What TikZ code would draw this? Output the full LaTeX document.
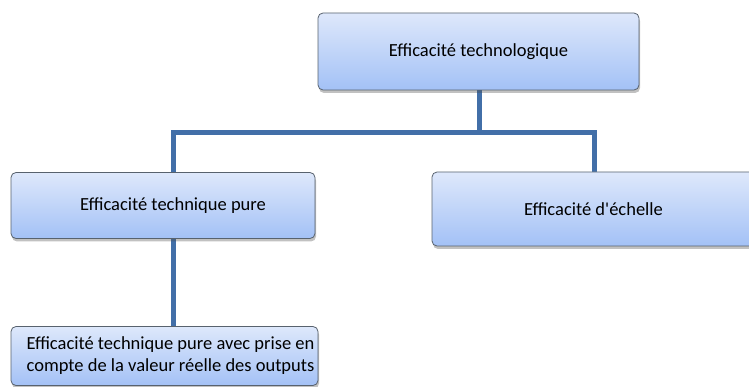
\documentclass[tikz,border=0pt]{standalone}
\usepackage{fontspec}
\setmainfont{Carlito}
\usetikzlibrary{shadows}
\definecolor{boxtop}{RGB}{222,232,251}
\definecolor{boxbot}{RGB}{163,193,246}
\definecolor{boxedge}{RGB}{88,98,110}
\definecolor{conncol}{RGB}{66,111,168}
\tikzset{
  boxnode/.style={draw=boxedge, line width=0.8pt, rounded corners=5pt,
    top color=boxtop, bottom color=boxbot, inner sep=0pt, align=center,
    font=\fontsize{18.5}{22}\selectfont,
    drop shadow={shadow xshift=1pt, shadow yshift=-3pt, opacity=0.35, fill=black!70}},
  conn/.style={draw=conncol, line width=5pt}
}
\begin{document}
\begin{tikzpicture}[x=1pt,y=-1pt]
\useasboundingbox (0,0) rectangle (749,387);
\coordinate (jl) at (173.5,133);
\coordinate (jr) at (594,133);
\coordinate (jm) at (479,133);
\draw[conn] (479,90) -- (jm);
\draw[conn] (173.5,239) -- (173.5,327);
\draw[conn] (173.5,172) -- (jl) -- (jr) -- (594,172);
\node[boxnode, minimum width=321pt, minimum height=77pt] (top) at (478.5,51.5) {Efficacité technologique};
\node[boxnode, minimum width=304pt, minimum height=66pt] (left) at (163,205.5) {\hspace*{20pt}Efficacité technique pure};
\node[boxnode, minimum width=323pt, minimum height=74pt] (right) at (593.5,209) {Efficacité d\textquotesingle échelle};
\node[boxnode, minimum width=307pt, minimum height=59pt] (bot) at (164.5,356) {\hspace*{12pt}Efficacité technique pure avec prise en\\\hspace*{12pt}compte de la valeur réelle des outputs};
\end{tikzpicture}
\end{document}
